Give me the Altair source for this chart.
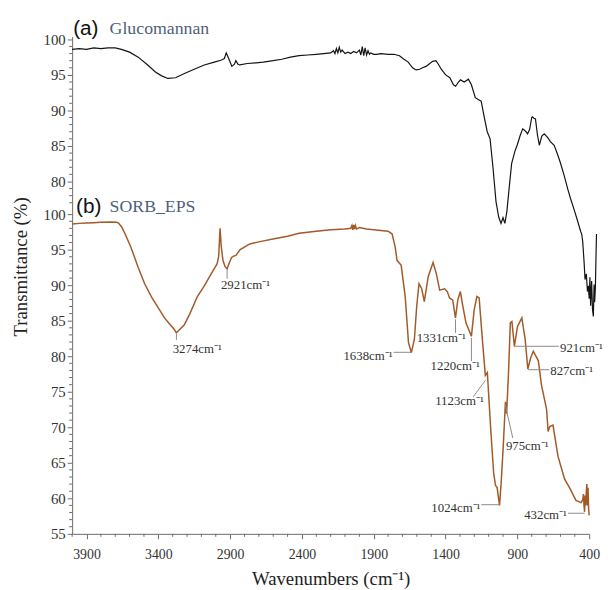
import altair as alt
import pandas as pd

# Vertical offset that lifts the Glucomannan trace above the SORB_EPS trace
OFFSET = 24.6

# ---------------- (a) Glucomannan ----------------
gluc_wn = [4000, 3950, 3900, 3850, 3800, 3750, 3700, 3657, 3600, 3540,
           3480, 3420, 3380, 3334, 3280, 3218, 3150, 3080, 3010, 2960,
           2940, 2927, 2910, 2888, 2870, 2860, 2845, 2833, 2780, 2720,
           2670, 2600, 2540, 2480, 2420, 2360, 2300, 2250, 2200, 2180,
           2170, 2160, 2150, 2140, 2130, 2120, 2100, 2080, 2060, 2040,
           2020, 2000, 1990, 1980, 1970, 1960, 1950, 1940, 1930, 1920,
           1900, 1880, 1850, 1800, 1760, 1721, 1690, 1660, 1630, 1605,
           1580, 1560, 1536, 1510, 1490, 1467, 1450, 1430, 1399, 1370,
           1345, 1330, 1310, 1296, 1270, 1241, 1220, 1193, 1170, 1152,
           1130, 1110, 1090, 1070, 1049, 1030, 1014, 1000, 987, 973,
           960, 940, 918, 900, 880, 863, 850, 840, 829, 815,
           800, 795, 785, 774, 760, 747, 730, 713, 690, 670,
           644, 620, 600, 575, 550, 530, 506, 480, 460, 452,
           445, 435, 429, 420, 412, 406, 400, 395, 390, 383,
           377, 371, 366, 362, 357, 352, 349]
gluc_t = [98.6, 98.7, 98.6, 98.8, 98.7, 98.8, 98.8, 98.6, 98.2, 97.5,
          96.5, 95.4, 94.9, 94.5, 94.6, 95.2, 95.8, 96.4, 96.8, 97.1,
          97.3, 98.1, 97.3, 96.2, 96.5, 97.0, 96.5, 96.4, 96.6, 96.7,
          96.8, 97.0, 97.2, 97.5, 97.7, 97.8, 97.9, 98.0, 98.1, 98.4,
          98.0, 98.7, 98.1, 98.9, 98.2, 98.5, 98.0, 98.2, 98.0, 98.3,
          98.1, 98.5, 97.8, 99.0, 97.7, 98.8, 97.8, 98.4, 97.9, 98.1,
          97.9, 97.9, 98.0, 97.9, 97.9, 97.7, 97.2, 96.8, 96.0, 95.7,
          95.8, 96.0, 96.2, 96.6, 96.9, 97.0, 96.5, 95.8, 95.0, 94.6,
          93.6, 93.4, 94.0, 94.3, 94.0, 94.4, 93.6, 91.8, 91.5, 91.3,
          89.0, 87.0, 86.0, 82.0, 77.2, 75.0, 74.1, 74.9, 74.1, 75.8,
          78.5, 82.5, 84.2, 85.2, 86.5, 87.4, 87.2, 87.0, 86.7, 87.3,
          89.0, 89.1, 88.9, 88.8, 86.5, 85.1, 86.4, 86.7, 86.2, 85.6,
          85.1, 83.8, 82.6, 80.9, 79.0, 77.6, 76.1, 74.4, 73.0, 72.6,
          71.5, 68.5, 66.2, 67.0, 64.5, 65.3, 63.5, 66.5, 62.5, 66.0,
          62.0, 61.0, 65.5, 63.0, 65.0, 70.0, 72.6]

# ---------------- (b) SORB_EPS ----------------
eps_wn = [4000, 3950, 3900, 3850, 3800, 3723, 3690, 3677, 3655, 3631,
          3590, 3540, 3495, 3449, 3400, 3357, 3320, 3290, 3274, 3250,
          3220, 3180, 3128, 3080, 3037, 2991, 2980, 2970, 2962, 2950,
          2935, 2921, 2905, 2890, 2875, 2860, 2830, 2763, 2700, 2602,
          2500, 2420, 2300, 2200, 2100, 2060, 2052, 2046, 2040, 2034,
          2028, 2020, 2000, 1950, 1900, 1850, 1800, 1772, 1750, 1738,
          1709, 1681, 1658, 1638, 1617, 1601, 1585, 1566, 1548, 1521,
          1487, 1464, 1441, 1407, 1388, 1372, 1350, 1331, 1315, 1297,
          1281, 1258, 1220, 1201, 1182, 1166, 1144, 1123, 1109, 1086,
          1065, 1052, 1041, 1024, 1012, 999, 983, 975, 962, 949,
          938, 921, 899, 869, 846, 827, 807, 789, 754, 732,
          697, 686, 674, 652, 617, 571, 537, 492, 457, 445,
          440, 436, 432, 428, 424, 420, 416, 412, 408, 404, 400]
eps_t = [98.6, 98.7, 98.75, 98.8, 98.85, 98.9, 98.85, 98.75, 98.2, 97.2,
         95.3, 92.5, 90.2, 88.4, 86.8, 85.4, 84.5, 83.8, 83.3, 83.8,
         84.4, 86.0, 88.4, 89.9, 91.4, 93.0, 94.0, 98.0, 95.5, 93.5,
         92.6, 92.3, 93.2, 93.9, 94.1, 94.2, 95.0, 95.8, 96.1, 96.5,
         96.9, 97.3, 97.6, 97.8, 97.9, 98.0, 98.4, 97.8, 98.5, 97.9,
         98.4, 97.9, 98.1, 97.9, 97.8, 97.7, 97.6, 97.2, 95.3, 93.5,
         92.8, 88.4, 81.9, 80.5, 82.4, 87.0, 90.2, 89.5, 87.7, 91.2,
         93.2, 91.6, 89.3, 89.5, 89.1, 88.2, 87.9, 85.4, 87.9, 89.1,
         87.2, 84.7, 82.8, 86.5, 88.4, 88.2, 82.4, 77.3, 77.7, 69.9,
         63.5, 61.8, 61.5, 59.0, 62.5, 67.1, 73.6, 71.9, 77.5, 84.7,
         84.9, 81.4, 84.2, 85.4, 82.4, 78.2, 79.8, 80.7, 79.35, 75.9,
         72.6, 69.4, 70.1, 70.3, 65.9, 62.7, 61.5, 59.7, 59.4, 59.8,
         60.6, 59.0, 58.1, 60.4, 59.0, 61.0, 62.0, 59.0, 61.5, 58.5, 57.6]

# ---------------- peak annotations (SORB_EPS) ----------------
peak_wn = [3274, 2921, 1638, 1331, 1220, 1123, 1024, 975, 921, 827, 432]
lead_start_wn = [3274, 2921, 1638, 1331, 1220, 1123, 1024, 985, 921, 827, 432]
lead_start_t = [83.2, 92.2, 80.55, 85.2, 82.6, 76.6, 59.1, 73.2, 81.4, 78.1, 57.9]
lead_end_wn = [3274, 2921, 1762, 1331, 1220, 1207, 1152, 932, 612, 678, 548]
lead_end_t = [82.3, 90.9, 80.55, 83.3, 79.3, 74.3, 59.1, 68.5, 81.4, 78.1, 57.9]
label_wn = [3300, 2964, 1769, 1430, 1333, 1303, 1157, 980, 603, 671, 555]
label_t = [81.0, 90.0, 80.0, 82.6, 78.65, 73.65, 58.6, 67.4, 81.2, 77.95, 57.7]
label_align = ["left", "left", "right", "center", "center", "center",
               "right", "left", "left", "left", "right"]

# ---------------- panel tags ----------------
tag_text = ["(a)", "(b)"]
tag_wn = [3993, 3973]
name_text = ["Glucomannan", "SORB_EPS"]
name_wn = [3739, 3739]
tag_t = [126.0, 101.0]

# ---------------- axis ticks ----------------
x_major = [3900, 3400, 2900, 2400, 1900, 1400, 900, 400]
x_minor = [w for w in range(4000, 399, -100) if w not in x_major]
y_major_low = [55, 60, 65, 70, 75, 80, 85, 90, 95, 100]
y_major_high = [80, 85, 90, 95, 100]
y_minor_low = [v for v in range(55, 101) if v % 5 != 0]
y_minor_high = [v for v in range(77, 101) if v % 5 != 0]

SERIF = "Liberation Serif"
AXIS_GRAY = "#6b6b6b"
BROWN = "#a25a28"
PX_W = 3600 / 524.0   # wavenumber units per pixel
PX_T = 70 / 504.0     # transmittance units per pixel

gluc = pd.DataFrame({"wn": gluc_wn, "t": gluc_t})
gluc["u"] = gluc["t"] + OFFSET
eps = pd.DataFrame({"wn": eps_wn, "t": eps_t})
eps["u"] = eps["t"]

ann = pd.DataFrame({
    "label": [f"{w}cm\u207b\u00b9" for w in peak_wn],
    "sw": lead_start_wn, "st": lead_start_t,
    "ew": lead_end_wn, "et": lead_end_t,
    "lw": label_wn, "lt": label_t, "align": label_align,
})
tags = pd.DataFrame({"tag": tag_text, "wn": tag_wn, "u": tag_t,
                     "name": name_text, "nwn": name_wn})

y_major = y_major_low + [round(v + OFFSET, 2) for v in y_major_high]
ymin = pd.DataFrame({"u": y_minor_low + [round(v + OFFSET, 2) for v in y_minor_high]})
ymin["x0"] = 4000.0
ymin["x1"] = 4000.0 + 3 * PX_W
xmin = pd.DataFrame({"wn": x_minor})
xmin["y0"] = 55.0
xmin["y1"] = 55.0 - 3 * PX_T

xscale = alt.Scale(domain=[400, 4000], reverse=True, nice=False, zero=False)
yscale = alt.Scale(domain=[55, 125], nice=False, zero=False)

x_axis = alt.Axis(
    values=x_major, format="d",
    labelOverlap=False, labelFlush=False, tickSize=5,
    grid=False, domainColor=AXIS_GRAY, tickColor=AXIS_GRAY,
    labelFont=SERIF, labelFontSize=14, labelColor="#333333", labelPadding=9,
    title="Wavenumbers (cm\u207b\u00b9)", titleFont=SERIF, titleFontSize=19,
    titleFontWeight="normal", titleColor="#222222",
    titleX=262, titleY=45, titleAlign="center", titleBaseline="middle",
)
y_axis = alt.Axis(
    values=y_major,
    labelExpr=f"format(datum.value > 100.5 ? round(datum.value - {OFFSET}) : round(datum.value), 'd')",
    labelOverlap=False, tickSize=5,
    grid=False, domainColor=AXIS_GRAY, tickColor=AXIS_GRAY,
    labelFont=SERIF, labelFontSize=15, labelColor="#333333", labelPadding=2,
    title="Transmittance (%)", titleFont=SERIF, titleFontSize=19,
    titleFontWeight="normal", titleColor="#222222",
    titleX=-52, titleY=233, titleAngle=270, titleAlign="center", titleBaseline="middle",
)

gluc_line = alt.Chart(gluc).mark_line(color="#141414", strokeWidth=1.2).encode(
    x=alt.X("wn:Q", scale=xscale, axis=x_axis),
    y=alt.Y("u:Q", scale=yscale, axis=y_axis),
)
eps_line = alt.Chart(eps).mark_line(color=BROWN, strokeWidth=1.5).encode(
    x=alt.X("wn:Q", scale=xscale, axis=x_axis),
    y=alt.Y("u:Q", scale=yscale, axis=y_axis),
)
y_minor_ticks = alt.Chart(ymin).mark_rule(color=AXIS_GRAY, strokeWidth=1).encode(
    x=alt.X("x0:Q", scale=xscale, axis=x_axis),
    x2="x1:Q",
    y=alt.Y("u:Q", scale=yscale, axis=y_axis),
)
x_minor_ticks = alt.Chart(xmin).mark_rule(color=AXIS_GRAY, strokeWidth=1).encode(
    x=alt.X("wn:Q", scale=xscale, axis=x_axis),
    y=alt.Y("y0:Q", scale=yscale, axis=y_axis),
    y2="y1:Q",
)
leaders = alt.Chart(ann).mark_rule(color="#8a8a8a", strokeWidth=1).encode(
    x=alt.X("sw:Q", scale=xscale, axis=x_axis),
    y=alt.Y("st:Q", scale=yscale, axis=y_axis),
    x2="ew:Q", y2="et:Q",
)


def ann_text(align):
    return alt.Chart(ann).transform_filter(alt.datum.align == align).mark_text(
        align=align, baseline="middle", font=SERIF, fontSize=13, color="#333333"
    ).encode(
        x=alt.X("lw:Q", scale=xscale, axis=x_axis),
        y=alt.Y("lt:Q", scale=yscale, axis=y_axis),
        text="label:N",
    )


tag_marks = alt.Chart(tags).mark_text(
    align="left", baseline="middle", font="Liberation Sans", fontSize=21, color="#111111"
).encode(
    x=alt.X("wn:Q", scale=xscale, axis=x_axis),
    y=alt.Y("u:Q", scale=yscale, axis=y_axis),
    text="tag:N",
)
name_marks = alt.Chart(tags).mark_text(
    align="left", baseline="middle", font=SERIF, fontSize=18, color="#4f5f7c"
).encode(
    x=alt.X("nwn:Q", scale=xscale, axis=x_axis),
    y=alt.Y("u:Q", scale=yscale, axis=y_axis),
    text="name:N",
)

chart = alt.layer(
    y_minor_ticks, x_minor_ticks,
    gluc_line, eps_line, leaders,
    ann_text("left"), ann_text("right"), ann_text("center"),
    tag_marks, name_marks,
).properties(
    width=524, height=504,
    autosize=alt.AutoSizeParams(type="none"),
    padding={"left": 65, "top": 25, "right": 14, "bottom": 53},
).configure_view(stroke=None)

chart.save("out.html", embed_options={"renderer": "svg", "actions": False})
